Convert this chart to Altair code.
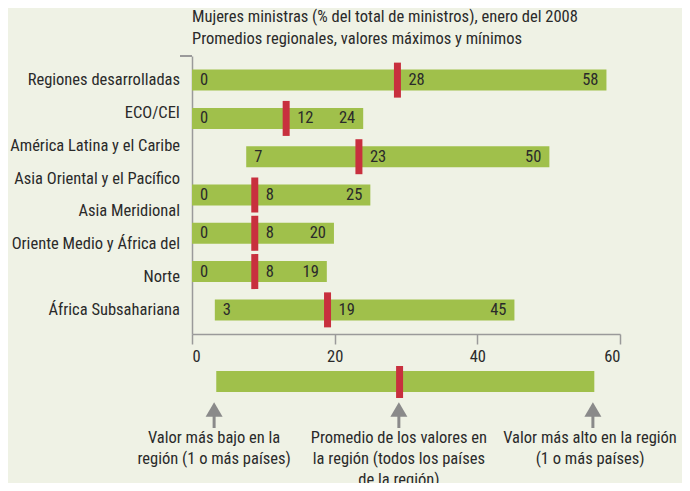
import altair as alt
import pandas as pd

# ---- data ----
regions = [
    "Regiones desarrolladas",
    "ECO/CEI",
    "América Latina y el Caribe",
    "Asia Oriental y el Pacífico",
    "Asia Meridional",
    "Oriente Medio y África del Norte",
    "África Subsahariana",
]
min_vals = [0, 0, 7.6, 0, 0, 0, 3.2]
avg_vals = [28.8, 13.2, 23.4, 8.8, 8.8, 8.8, 19.0]
max_vals = [58.1, 24.0, 50.1, 25.0, 19.9, 18.9, 45.2]
min_labels = ["0", "0", "7", "0", "0", "0", "3"]
avg_labels = ["28", "12", "23", "8", "8", "8", "19"]
max_labels = ["58", "24", "50", "25", "20", "19", "45"]

axis_labels = [
    "Regiones desarrolladas",
    "ECO/CEI",
    "América Latina y el Caribe",
    "Asia Oriental y el Pacífico",
    "Asia Meridional",
    "Oriente Medio y África del",
    "Norte",
    "África Subsahariana",
]
x_ticks = [0, 20, 40, 60]

title_lines = [
    "Mujeres ministras (% del total de ministros), enero del 2008",
    "Promedios regionales, valores máximos y mínimos",
]

legend_low, legend_avg, legend_high = 3.4, 29.1, 56.4
legend_arrow_x = [3.1, 29.0, 56.2]
legend_text_x = [3.1, 29.0, 55.8]
legend_texts = [
    "Valor más bajo en la\nregión (1 o más países)",
    "Promedio de los valores en\nla región (todos los países\nde la región)",
    "Valor más alto en la región\n(1 o más países)",
]

# ---- styling ----
FONT = "Roboto Condensed, DejaVu Sans Condensed, Roboto"
FS = 16.5
TXT = "#2a2a2a"
GREEN = "#a0c04b"
RED = "#c8303e"
GREY = "#9a9a9a"
BG = "#eff2e5"

df = pd.DataFrame({
    "region": regions, "lo": min_vals, "avg": avg_vals, "hi": max_vals,
    "lo_lab": min_labels, "avg_lab": avg_labels, "hi_lab": max_labels,
})
lab_df = pd.DataFrame({"label": axis_labels})
leg_df = pd.DataFrame({"lo": [legend_low], "avg": [legend_avg], "hi": [legend_high]})
arrow_df = pd.DataFrame({"x": legend_arrow_x})
ltext_df = pd.DataFrame({"x": legend_text_x, "t": legend_texts})

xscale = alt.Scale(domain=[0, 60], nice=False, zero=False)
yscale = alt.Scale(type="point", padding=0.63, domain=regions)

base = alt.Chart(df)

bars = base.mark_bar(height=21, color=GREEN).encode(
    x=alt.X("lo:Q", scale=xscale,
            axis=alt.Axis(values=x_ticks, title=None, grid=False, tickSize=10,
                          domainColor=GREY, tickColor=GREY, domainWidth=1.5,
                          tickWidth=1.5, labelFontSize=FS, labelFont=FONT,
                          labelColor=TXT, labelPadding=4)),
    x2="hi:Q",
    y=alt.Y("region:N", scale=yscale,
            axis=alt.Axis(labels=False, ticks=False, title=None, grid=False,
                          domainColor=GREY, domainWidth=1.5)),
)

ticks = base.mark_tick(thickness=7, size=35, color=RED, opacity=1).encode(
    x=alt.X("avg:Q", scale=xscale),
    y=alt.Y("region:N", scale=yscale, axis=None),
)

txt_common = dict(fontSize=FS, font=FONT, color=TXT, baseline="middle")
lo_txt = base.mark_text(align="left", dx=8, **txt_common).encode(
    x=alt.X("lo:Q", scale=xscale), y=alt.Y("region:N", scale=yscale, axis=None),
    text="lo_lab:N")
avg_txt = base.mark_text(align="left", dx=11, **txt_common).encode(
    x=alt.X("avg:Q", scale=xscale), y=alt.Y("region:N", scale=yscale, axis=None),
    text="avg_lab:N")
hi_txt = base.mark_text(align="right", dx=-8, **txt_common).encode(
    x=alt.X("hi:Q", scale=xscale), y=alt.Y("region:N", scale=yscale, axis=None),
    text="hi_lab:N")

ylabels = alt.Chart(lab_df).mark_text(align="right", **txt_common).encode(
    x=alt.value(-12),
    y=alt.Y("label:N", scale=alt.Scale(type="point", padding=0.73, domain=axis_labels),
            axis=None),
    text="label:N",
)

top_tick = alt.Chart(lab_df).mark_rule(color=GREY, strokeWidth=1.5).encode(
    x=alt.value(-12), x2=alt.value(0), y=alt.value(0)
)

# ---- schematic legend below the axis ----
leg_bar = alt.Chart(leg_df).mark_rect(color=GREEN).encode(
    x=alt.X("lo:Q", scale=xscale), x2="hi:Q",
    y=alt.value(315), y2=alt.value(336))
leg_tick = alt.Chart(leg_df).mark_rule(color=RED, strokeWidth=7).encode(
    x=alt.X("avg:Q", scale=xscale), y=alt.value(310), y2=alt.value(342))
leg_stem = alt.Chart(arrow_df).mark_rule(color="#8a8a8a", strokeWidth=3).encode(
    x=alt.X("x:Q", scale=xscale), y=alt.value(359), y2=alt.value(372))
leg_head = alt.Chart(arrow_df).mark_point(shape="triangle-up", size=289, filled=True,
                                          color="#8a8a8a", opacity=1).encode(
    x=alt.X("x:Q", scale=xscale), y=alt.value(353.5))
leg_txt = alt.Chart(ltext_df).mark_text(align="center", baseline="top", lineBreak="\n",
                                        lineHeight=21, fontSize=FS, font=FONT,
                                        color=TXT).encode(
    x=alt.X("x:Q", scale=xscale), y=alt.value(374), text="t:N")

chart = alt.layer(
    bars, ticks, lo_txt, avg_txt, hi_txt, ylabels, top_tick,
    leg_bar, leg_tick, leg_stem, leg_head, leg_txt,
).resolve_scale(y="independent").properties(
    width=428, height=278,
    autosize=alt.AutoSizeParams(type="none"),
    padding={"left": 184, "top": 48, "right": 62, "bottom": 149},
    background=BG,
    title=alt.TitleParams(text=title_lines, anchor="start", frame="group",
                          fontSize=FS, font=FONT, fontWeight="normal",
                          color=TXT, lineHeight=22, offset=8),
).configure_view(stroke=None)

chart.save("out.html", embed_options={"renderer": "svg", "actions": False})
